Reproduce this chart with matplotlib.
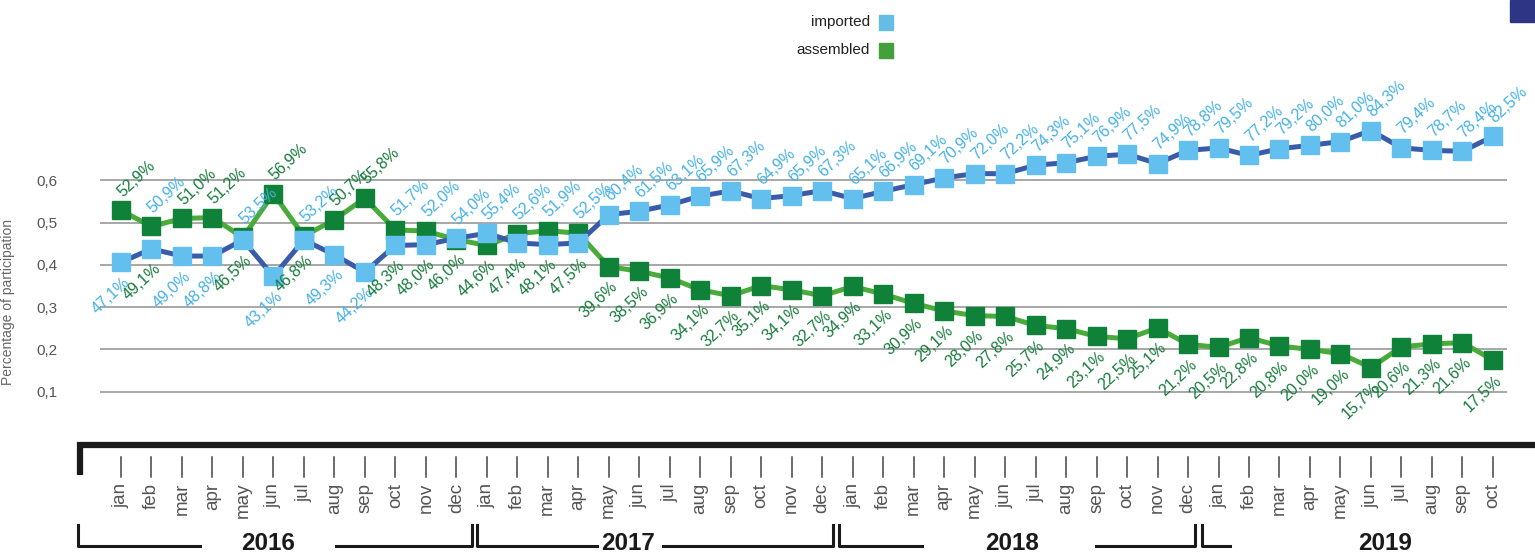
import numpy as np
import matplotlib.pyplot as plt
from matplotlib.patches import Rectangle

months = ["jan", "feb", "mar", "apr", "may", "jun", "jul", "aug", "sep", "oct", "nov", "dec"] * 3 + \
         ["jan", "feb", "mar", "apr", "may", "jun", "jul", "aug", "sep", "oct"]
years = ["2016", "2017", "2018", "2019"]

# marker heights as drawn for "imported"
imported = [0.406, 0.438, 0.421, 0.421, 0.459, 0.373, 0.459, 0.424, 0.383, 0.446, 0.448, 0.463,
            0.475, 0.452, 0.448, 0.452, 0.519, 0.527, 0.542, 0.563, 0.575, 0.557, 0.564, 0.576,
            0.557, 0.574, 0.590, 0.606, 0.616, 0.616, 0.636, 0.642, 0.657, 0.662, 0.640, 0.671,
            0.677, 0.659, 0.675, 0.683, 0.692, 0.718, 0.677, 0.671, 0.669, 0.704]
# printed labels (%)
imported_lbl = [47.1, 50.9, 49.0, 48.8, 53.5, 43.1, 53.2, 49.3, 44.2, 51.7, 52.0, 54.0,
                55.4, 52.6, 51.9, 52.5, 60.4, 61.5, 63.1, 65.9, 67.3, 64.9, 65.9, 67.3,
                65.1, 66.9, 69.1, 70.9, 72.0, 72.2, 74.3, 75.1, 76.9, 77.5, 74.9, 78.8,
                79.5, 77.2, 79.2, 80.0, 81.0, 84.3, 79.4, 78.7, 78.4, 82.5]
assembled_lbl = [52.9, 49.1, 51.0, 51.2, 46.5, 56.9, 46.8, 50.7, 55.8, 48.3, 48.0, 46.0,
                 44.6, 47.4, 48.1, 47.5, 39.6, 38.5, 36.9, 34.1, 32.7, 35.1, 34.1, 32.7,
                 34.9, 33.1, 30.9, 29.1, 28.0, 27.8, 25.7, 24.9, 23.1, 22.5, 25.1, 21.2,
                 20.5, 22.8, 20.8, 20.0, 19.0, 15.7, 20.6, 21.3, 21.6, 17.5]
assembled = [v / 100 for v in assembled_lbl]

x = np.arange(len(months))
W, H = 1535, 553

fig = plt.figure(figsize=(W / 100, H / 100), dpi=100)
ax = fig.add_axes([77 / W, 110 / H, 1458 / W, 383 / H])
ax.set_xlim(-1.44, 46.38)
ax.set_ylim(-0.0215, 0.885)
for s in ax.spines.values():
    s.set_visible(False)

yt = [0.1, 0.2, 0.3, 0.4, 0.5, 0.6]
ax.hlines(yt, -0.7, 45.45, color="#a0a0a0", lw=1.3, zorder=1)
ax.set_yticks(yt)
ax.set_yticklabels([f"{v:.1f}".replace(".", ",") for v in yt], color="#555555",
                   fontsize=11, family="Liberation Sans")
ax.tick_params(axis="y", length=0, pad=14)
ax.set_xticks([])
ax.set_ylabel("Percentage of participation", color="#666666", fontsize=10,
              family="Liberation Sans")
ax.yaxis.set_label_coords(-0.0425, 0.368)

ax.plot(x, assembled, color="#4aab3b", lw=3.6, marker="s", ms=12.5,
        mfc="#0f8139", mec="#0f8139", zorder=3)
ax.plot(x, imported, color="#3a5ca8", lw=3.6, marker="s", ms=12.5,
        mfc="#63c0ee", mec="#63c0ee", zorder=4)

for i in x:
    top = max(imported[i], assembled[i])
    bot = min(imported[i], assembled[i])
    imp_up = imported_lbl[i] > assembled_lbl[i]
    items = [(imported_lbl[i], "#45b1e6", imp_up), (assembled_lbl[i], "#167b3c", not imp_up)]
    for val, col, up in items:
        txt = f"{val:.1f}%".replace(".", ",")
        if up:
            xy, off = (i, top), (11, 23)
        else:
            xy, off = (i, bot), (-7, -24)
        ax.annotate(txt, xy, xytext=off, textcoords="offset points", rotation=43,
                    rotation_mode="anchor", ha="center", va="center", color=col,
                    fontsize=11.5, family="Liberation Sans", zorder=5)

# bottom axis decoration
ya = lambda py: (443 - py) / 383
ax.plot([0, 1], [ya(445), ya(445)], transform=ax.transAxes, color="#1a1a1a", lw=4.5,
        clip_on=False, solid_capstyle="butt")
ax.plot([0.002, 0.002], [ya(442), ya(475)], transform=ax.transAxes, color="#1a1a1a",
        lw=4.5, clip_on=False, solid_capstyle="butt")
xt = ax.get_xaxis_transform()
for i, m in enumerate(months):
    ax.plot([i, i], [ya(457), ya(477)], transform=xt, color="#444444", lw=1.1, clip_on=False)
    ax.text(i, ya(483), m, transform=xt, rotation=90, ha="center", va="top",
            color="#555555", fontsize=13.5, family="Liberation Sans")

# year brackets: left, gap start, gap end, right, text centre (month units)
brackets = [(-1.42, 2.59, 7.05, 11.51, 4.82),
            (11.68, 15.61, 17.78, 23.35, 16.63),
            (23.55, 26.27, 31.98, 35.22, 29.22),
            (35.45, 36.37, None, None, 41.45)]
yb, yv = ya(546), ya(525)
for yr, (l, g1, g2, r, c) in zip(years, brackets):
    kw = dict(transform=xt, color="#1a1a1a", lw=2.2, clip_on=False)
    ax.plot([l, l, g1], [yv, yb, yb], **kw)
    if r is not None:
        ax.plot([g2, r, r], [yb, yb, yv], **kw)
    ax.text(c, ya(544), yr, transform=xt, ha="center", va="center", fontsize=17.5,
            fontweight="bold", color="#1a1a1a",
            family=["Liberation Sans Narrow", "Liberation Sans"])

# legend
for lbl, col, py in [("imported", "#65bde6", 22), ("assembled", "#43a03a", 50)]:
    fig.text(870 / W, 1 - py / H, lbl, ha="right", va="center", fontsize=11,
             color="#222222", family=["Liberation Sans Narrow", "Liberation Sans"])
    fig.add_artist(Rectangle((879 / W, 1 - (py + 7.5) / H), 14 / W, 15 / H,
                             transform=fig.transFigure, color=col))
fig.add_artist(Rectangle((1510 / W, 1 - 22 / H), 25 / W, 22 / H,
                         transform=fig.transFigure, color="#2e3585"))

fig.savefig("out.png", dpi=100)
